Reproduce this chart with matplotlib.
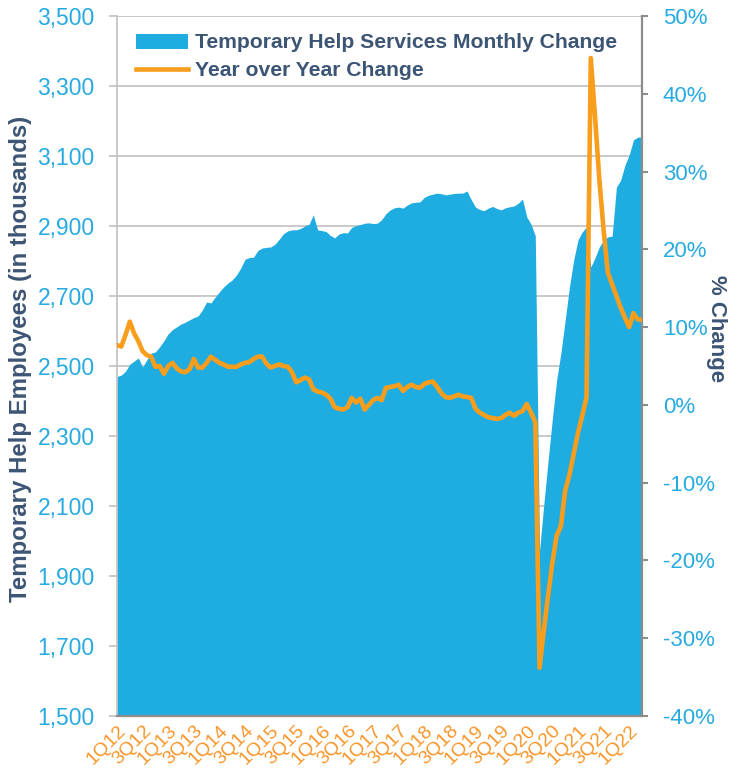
import matplotlib

matplotlib.use("Agg")
import matplotlib.pyplot as plt  # noqa: E402
import matplotlib.transforms as mtransforms  # noqa: E402
import numpy as np  # noqa: E402
from matplotlib.patches import Patch  # noqa: E402
from matplotlib.lines import Line2D  # noqa: E402
from matplotlib.ticker import FuncFormatter  # noqa: E402

# monthly, Jan 2012 .. Apr 2022
temp_help = [
    2470, 2474, 2485, 2505, 2514, 2523, 2497, 2518, 2537, 2540, 2555, 2572,  # 2012
    2592, 2604, 2612, 2620, 2625, 2632, 2638, 2643, 2660, 2683, 2680, 2697,  # 2013
    2712, 2726, 2737, 2746, 2760, 2780, 2805, 2810, 2811, 2830, 2837, 2839,  # 2014
    2840, 2848, 2862, 2878, 2886, 2889, 2889, 2893, 2900, 2905, 2932, 2889,  # 2015
    2887, 2884, 2873, 2866, 2877, 2881, 2880, 2896, 2901, 2904, 2908, 2909,  # 2016
    2907, 2908, 2918, 2935, 2946, 2952, 2954, 2951, 2960, 2966, 2968, 2969,  # 2017
    2982, 2988, 2991, 2994, 2992, 2989, 2991, 2993, 2994, 2994, 3000, 2975,  # 2018
    2954, 2947, 2944, 2951, 2956, 2950, 2946, 2952, 2955, 2957, 2965, 2977,  # 2019
    2926, 2905, 2872, 1974, 2105, 2230, 2350, 2460, 2537, 2631, 2726, 2803,  # 2020
    2860, 2883, 2897, 2783, 2809, 2840, 2860, 2869, 2871, 3011, 3031, 3074,  # 2021
    3103, 3146, 3154, 3154,                                                  # 2022
]

yoy_pct = [
    7.7, 7.5, 9.0, 10.7, 9.2, 8.2, 6.9, 6.4, 6.2, 4.9, 5.0, 4.0,
    5.0, 5.4, 4.7, 4.3, 4.2, 4.6, 5.9, 4.8, 4.8, 5.4, 6.2, 5.8,
    5.4, 5.2, 4.9, 4.9, 4.9, 5.2, 5.4, 5.5, 5.9, 6.2, 6.2, 5.3,
    4.8, 5.0, 5.2, 5.0, 4.9, 4.2, 2.9, 3.2, 3.5, 3.3, 2.0, 1.7,
    1.6, 1.3, 0.8, -0.3, -0.5, -0.6, -0.3, 0.9, 0.3, 0.8, -0.6, 0.0,
    0.6, 0.9, 0.6, 2.2, 2.3, 2.4, 2.6, 1.8, 2.3, 2.6, 2.3, 2.2,
    2.7, 2.9, 3.0, 2.3, 1.5, 1.0, 0.9, 1.1, 1.3, 1.1, 1.0, 0.9,
    -0.5, -1.0, -1.3, -1.6, -1.7, -1.8, -1.7, -1.3, -1.0, -1.4, -1.0, -0.8,
    0.1, -1.0, -2.2, -33.8, -29.0, -24.5, -20.3, -16.8, -15.6, -11.0, -9.0, -6.3,
    -3.6, -1.4, 1.0, 44.6, 37.0, 29.0, 22.5, 17.0, 15.5, 14.0, 12.5, 11.2,
    10.0, 11.8, 11.0, 10.9,
]

quarter_labels = [
    "1Q12", "3Q12", "1Q13", "3Q13", "1Q14", "3Q14", "1Q15", "3Q15", "1Q16", "3Q16",
    "1Q17", "3Q17", "1Q18", "3Q18", "1Q19", "3Q19", "1Q20", "3Q20", "1Q21", "3Q21",
    "1Q22",
]

left_ticks = [1500, 1700, 1900, 2100, 2300, 2500, 2700, 2900, 3100, 3300, 3500]
right_ticks = [-40, -30, -20, -10, 0, 10, 20, 30, 40, 50]

AREA = "#1FADE1"
ORANGE = "#F99D1C"
LABEL_ORANGE = "#F7962A"
TICK_BLUE = "#27AAE1"
NAVY = "#3D5574"
GRID = "#C0C0C0"
AXIS_DARK = "#8C8C8C"

plt.rcParams["font.family"] = ["Liberation Sans", "DejaVu Sans"]

fig = plt.figure(figsize=(7.29, 7.72), dpi=100)
ax = fig.add_axes([117 / 729, 1 - 716 / 772, 525 / 729, 700 / 772])
ax2 = ax.twinx()

x = np.arange(len(temp_help))
ax.fill_between(x, 1500, temp_help, color=AREA, lw=0, zorder=1)
ax2.plot(x, yoy_pct, color=ORANGE, lw=3.3, solid_joinstyle="round", zorder=3)

ax.set_xlim(0, len(temp_help) - 1)
ax.set_ylim(1500, 3500)
ax2.set_ylim(-40, 50)

# gridlines behind the area, on the left-axis ticks
ax.set_axisbelow(True)
ax.set_yticks(left_ticks)
ax.yaxis.grid(True, color=GRID, lw=1.2)
ax.yaxis.set_major_formatter(FuncFormatter(lambda v, _: f"{v:,.0f}"))
ax.tick_params(axis="y", direction="out", length=6, width=1.2, color=GRID,
               labelsize=16.5, labelcolor=TICK_BLUE, pad=10)

ax2.set_yticks(right_ticks)
ax2.yaxis.set_major_formatter(FuncFormatter(lambda v, _: f"{v:.0f}%"))
ax2.tick_params(axis="y", direction="out", length=4, width=1.5, color=AXIS_DARK,
                labelsize=16, labelcolor=TICK_BLUE, pad=11)

ax.set_xticks(x[::6][: len(quarter_labels)])
ax.set_xticklabels(quarter_labels)
ax.tick_params(axis="x", length=0, labelsize=14, labelcolor=LABEL_ORANGE, pad=9)
# nudge the rotated quarter labels a little to the right, as in the original
shift = mtransforms.ScaledTranslation(6 / 100, 0, fig.dpi_scale_trans)
for lab in ax.get_xticklabels():
    lab.set_rotation(45)
    lab.set_ha("right")
    lab.set_va("center")
    lab.set_rotation_mode("anchor")
    lab.set_transform(lab.get_transform() + shift)

for s in ("top", "right"):
    ax.spines[s].set_visible(False)
ax.spines["left"].set_color(GRID)
ax.spines["left"].set_linewidth(1.2)
ax.spines["bottom"].set_color(AXIS_DARK)
ax.spines["bottom"].set_linewidth(1.6)
for s in ("top", "left", "bottom"):
    ax2.spines[s].set_visible(False)
ax2.spines["right"].set_color(AXIS_DARK)
ax2.spines["right"].set_linewidth(1.6)

ax.set_ylabel("Temporary Help Employees (in thousands)", fontsize=17.3,
              fontweight="bold", color=NAVY, va="center")
ax.yaxis.set_label_coords(-0.183, 0.51)
ax2.set_ylabel("% Change", fontsize=16, fontweight="bold", color=NAVY,
               rotation=270, va="center", ha="center")
ax2.yaxis.set_label_coords(1.142, 0.554)

handles = [
    Patch(facecolor=AREA, edgecolor="none"),
    Line2D([], [], color=ORANGE, lw=3.3),
]
leg = ax.legend(handles, ["Temporary Help Services Monthly Change", "Year over Year Change"],
                loc="upper left", bbox_to_anchor=(0.036, 0.975), frameon=False,
                borderaxespad=0, borderpad=0, handlelength=2.45, handletextpad=0.33,
                labelspacing=0.42, prop={"size": 15.2, "weight": "bold"})
for t in leg.get_texts():
    t.set_color(NAVY)

fig.savefig("out.png", dpi=100)
